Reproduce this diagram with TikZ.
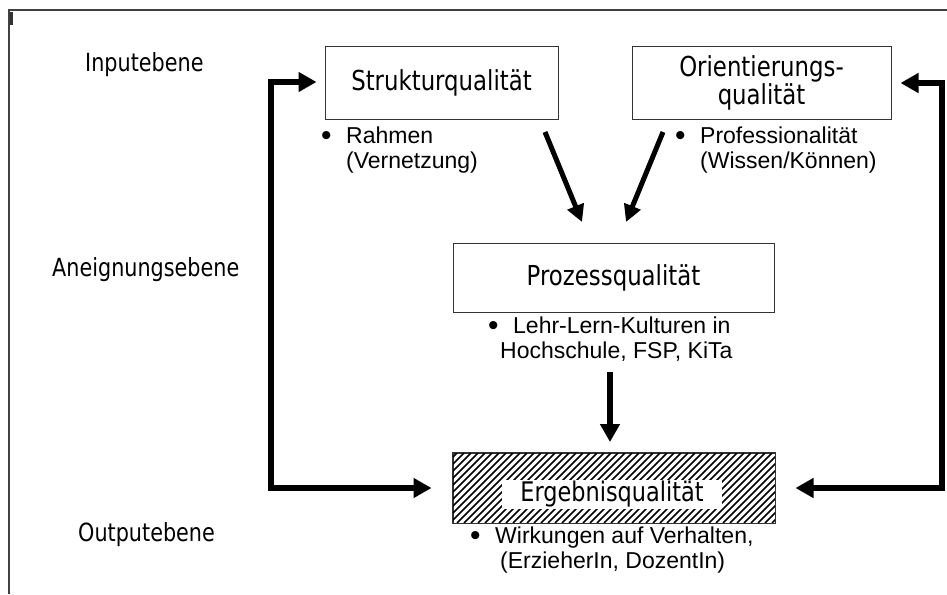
\documentclass[tikz,border=0pt]{standalone}
\usepackage{fontspec}
\setmainfont{Liberation Sans}
\newfontfamily\tah[FakeStretch=0.83]{DejaVu Sans}
\usetikzlibrary{arrows.meta}
\newcommand{\bul}{\makebox[25pt][l]{\raisebox{-0.1em}{\scalebox{1.3}{\textbullet}}}}
\newcommand{\bulblock}[3]{\begin{tabular}[t]{@{}l@{}}\bul#1\\\hspace*{#3}#2\end{tabular}}
\begin{document}
\begin{tikzpicture}[x=1pt,y=-1pt,
  qbox/.style={draw=black!80, line width=1pt, fill=white, inner sep=0pt, align=center,
    font=\tah\fontsize{27.5}{28.5}\selectfont},
  level/.style={anchor=base west, inner sep=0pt, font=\tah\fontsize{25}{27}\selectfont},
  btext/.style={anchor=base west, inner sep=0pt, font=\fontsize{23}{25.3}\selectfont},
  bigarrow/.style={line width=6pt, draw=black, miter limit=10},
  diagarrow/.style={line width=5pt, draw=black, -{Triangle[length=17pt,width=17pt]}}
]
\useasboundingbox (0,0) rectangle (947,594);
% frame
\draw[line width=1.3pt, black!75] (9,594) -- (9,10) -- (947,10);
\fill[black!80] (10,12) rectangle (12.5,25);

% level labels
\node[level] (inp) at (85,71) {Inputebene};
\node[level] (aneig) at (52,276) {Aneignungsebene};
\node[level] (outp) at (78,541) {Outputebene};

% boxes
\node[qbox, minimum width=233pt, minimum height=72pt] (sq) at (441.5,83) {Strukturqualität};
\node[qbox, minimum width=259pt, minimum height=72pt] (oq) at (761.5,83) {Orientierungs-\\qualität};
\node[qbox, minimum width=321pt, minimum height=69pt] (pq) at (613.5,277.5) {Prozessqualität};
\node[draw=black!80, line width=1pt, minimum width=322pt, minimum height=70pt, inner sep=0pt] (eq) at (614,488) {};
\begin{scope}
  \clip (eq.south west) rectangle (eq.north east);
  \foreach \i in {380,387,...,780} \draw[line width=1.7pt] (\i,523) -- (\i+70,453);
\end{scope}
\draw[black!80, line width=1pt] (eq.south west) rectangle (eq.north east);
\node[fill=white, inner sep=0pt, minimum width=220pt, minimum height=29pt,
  font=\tah\fontsize{27}{28}\selectfont] (eqlabel) at (612,494) {Ergebnisqualität};

% bullet texts
\node[btext] (sqb) at (321,143) {\bulblock{Rahmen}{(Vernetzung)}{25pt}};
\node[btext] (oqb) at (675,143) {\bulblock{Professionalität}{(Wissen/Können)}{25pt}};
\node[btext] (pqb) at (488,333) {\bulblock{Lehr-Lern-Kulturen in}{Hochschule, FSP, KiTa}{12pt}};
\node[btext] (eqb) at (470,543) {\bulblock{Wirkungen auf Verhalten,}{(ErzieherIn, DozentIn)}{30pt}};

% loop corners
\coordinate (l1) at (271,82);
\coordinate (l2) at (271,488);
\coordinate (r1) at (942,83);
\coordinate (r2) at (942,488);
\draw[bigarrow, {Triangle[length=18pt,width=19pt]}-{Triangle[length=18pt,width=19pt]}]
  ([xshift=-8pt,yshift=1pt]sq.west) -- (l1) -- (l2) -- ([xshift=-21pt]eq.west);
\draw[bigarrow, {Triangle[length=18pt,width=19pt]}-{Triangle[length=18pt,width=19pt]}]
  ([xshift=9pt]oq.east) -- (r1) -- (r2) -- ([xshift=20pt]eq.east);

% diagonal arrows
\coordinate (d1a) at (545,132);
\coordinate (d1b) at (582,222);
\coordinate (d2a) at (663,132);
\coordinate (d2b) at (626,222);
\draw[diagarrow] (d1a) -- (d1b);
\draw[diagarrow] (d2a) -- (d2b);

% vertical arrow
\coordinate (va) at (610,372);
\coordinate (vb) at (610,442);
\draw[line width=6pt, -{Triangle[length=18pt,width=19pt]}] (va) -- (vb);
\end{tikzpicture}
\end{document}
